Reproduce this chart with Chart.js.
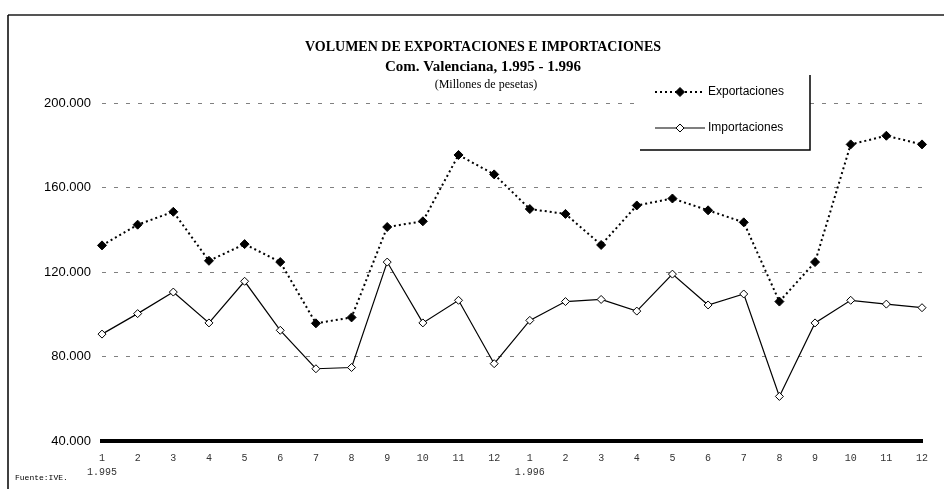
<!DOCTYPE html>
<html lang="es">
  <head>
    <meta charset="UTF-8" />
    <title>Volumen de exportaciones e importaciones</title>
    <script src="https://cdn.jsdelivr.net/npm/chart.js@4/dist/chart.umd.min.js"></script>
    <style>
      body {
        margin: 0;
        background: #ffffff;
      }
      #wrap {
        position: relative;
        width: 944px;
        height: 489px;
      }
    </style>
  </head>
  <body>
    <div id="wrap"><canvas id="chart"></canvas></div>

    <script>
      // months of 1995 and 1996
      const months = [1, 2, 3, 4, 5, 6, 7, 8, 9, 10, 11, 12, 1, 2, 3, 4, 5, 6, 7, 8, 9, 10, 11, 12]
      const yearLabels = { 0: '1.995', 12: '1.996' }

      // millones de pesetas
      const exportaciones = [
        132600, 142400, 148500, 125300, 133200, 124700, 95700, 98500, 141300, 144000, 175400, 166200,
        149800, 147500, 132800, 151500, 154800, 149200, 143500, 106000, 124700, 180400, 184500, 180400,
      ]
      const importaciones = [
        90600, 100300, 110500, 95900, 115600, 92400, 74200, 74800, 124700, 95900, 106600, 76600,
        97100, 106000, 107000, 101500, 119000, 104400, 109600, 61100, 95900, 106600, 104800, 103100,
      ]

      const yTicks = [40000, 80000, 120000, 160000, 200000]

      const labels = months.map((m, i) => (yearLabels[i] ? [String(m), yearLabels[i]] : String(m)))

      function fmt(v) {
        return String(v).replace(/\B(?=(\d{3})+(?!\d))/g, '.')
      }

      function diamond(ctx, x, y, r, fill) {
        ctx.beginPath()
        ctx.moveTo(x, y - r)
        ctx.lineTo(x + r, y)
        ctx.lineTo(x, y + r)
        ctx.lineTo(x - r, y)
        ctx.closePath()
        ctx.fillStyle = fill
        ctx.fill()
        ctx.lineWidth = 1
        ctx.strokeStyle = '#000'
        ctx.stroke()
      }

      const decorations = {
        id: 'decorations',
        afterDatasetsDraw(chart) {
          const ctx = chart.ctx
          ctx.save()

          // frame
          ctx.strokeStyle = '#555'
          ctx.lineWidth = 2
          ctx.beginPath()
          ctx.moveTo(8, 15)
          ctx.lineTo(944, 15)
          ctx.stroke()
          ctx.strokeStyle = '#000'
          ctx.lineWidth = 1.5
          ctx.beginPath()
          ctx.moveTo(8, 15)
          ctx.lineTo(8, 489)
          ctx.stroke()

          // titles
          ctx.fillStyle = '#000'
          ctx.textAlign = 'center'
          ctx.textBaseline = 'middle'
          ctx.font = 'bold 14px "Liberation Serif", serif'
          ctx.fillText('VOLUMEN DE EXPORTACIONES E IMPORTACIONES', 483, 47)
          ctx.font = 'bold 15px "Liberation Serif", serif'
          ctx.fillText('Com. Valenciana, 1.995 - 1.996', 483, 67)
          ctx.font = '12px "Liberation Serif", serif'
          ctx.fillText('(Millones de pesetas)', 486, 85)

          // legend box
          ctx.fillStyle = '#fff'
          ctx.fillRect(640, 75, 170, 75)
          ctx.strokeStyle = '#000'
          ctx.lineWidth = 1.5
          ctx.beginPath()
          ctx.moveTo(810, 75)
          ctx.lineTo(810, 150)
          ctx.lineTo(640, 150)
          ctx.stroke()

          ctx.lineWidth = 2
          ctx.setLineDash([2, 3])
          ctx.beginPath()
          ctx.moveTo(655, 92)
          ctx.lineTo(705, 92)
          ctx.stroke()
          ctx.setLineDash([])
          diamond(ctx, 680, 92, 4.5, '#000')

          ctx.lineWidth = 1.2
          ctx.beginPath()
          ctx.moveTo(655, 128)
          ctx.lineTo(705, 128)
          ctx.stroke()
          diamond(ctx, 680, 128, 4, '#fff')

          ctx.fillStyle = '#000'
          ctx.textAlign = 'left'
          ctx.font = '12px "Liberation Sans", Arial, sans-serif'
          ctx.fillText('Exportaciones', 708, 92)
          ctx.fillText('Importaciones', 708, 128)

          // source
          ctx.font = '8px "Liberation Mono", monospace'
          ctx.fillText('Fuente:IVE.', 15, 478)

          ctx.restore()
        },
      }

      new Chart(document.getElementById('chart'), {
        type: 'line',
        data: {
          labels: labels,
          datasets: [
            {
              label: 'Exportaciones',
              data: exportaciones,
              borderColor: '#000',
              borderWidth: 2,
              borderDash: [2, 3],
              pointStyle: 'rectRot',
              pointRadius: 4.5,
              pointBackgroundColor: '#000',
              pointBorderColor: '#000',
              pointBorderWidth: 1,
              fill: false,
              tension: 0,
            },
            {
              label: 'Importaciones',
              data: importaciones,
              borderColor: '#000',
              borderWidth: 1.2,
              pointStyle: 'rectRot',
              pointRadius: 4,
              pointBackgroundColor: '#fff',
              pointBorderColor: '#000',
              pointBorderWidth: 1,
              fill: false,
              tension: 0,
            },
          ],
        },
        options: {
          responsive: true,
          maintainAspectRatio: false,
          animation: false,
          layout: { padding: { top: 103, right: 22, left: 0, bottom: 0 } },
          plugins: {
            legend: { display: false },
            title: { display: false },
            tooltip: { enabled: false },
          },
          scales: {
            x: {
              offset: false,
              afterFit: scale => { scale.height = 48 },
              grid: { display: false, drawTicks: false },
              border: { display: true, color: '#000', width: 4 },
              ticks: {
                autoSkip: false,
                maxRotation: 0,
                padding: 10,
                color: '#333',
                font: { family: '"Liberation Mono", monospace', size: 10, lineHeight: 1.4 },
              },
            },
            y: {
              min: 40000,
              max: 200000,
              afterFit: scale => { scale.width = 102 },
              afterBuildTicks: scale => { scale.ticks = yTicks.map(v => ({ value: v })) },
              border: { display: false, dash: [4, 8] },
              grid: {
                drawTicks: false,
                color: ctx => (ctx.tick && ctx.tick.value === 40000 ? 'rgba(0,0,0,0)' : '#808080'),
                lineWidth: 1,
              },
              ticks: {
                padding: 11,
                color: '#000',
                font: { family: '"Liberation Sans", Arial, sans-serif', size: 13 },
                callback: v => fmt(v),
              },
            },
          },
        },
        plugins: [decorations],
      })
    </script>
  </body>
</html>
